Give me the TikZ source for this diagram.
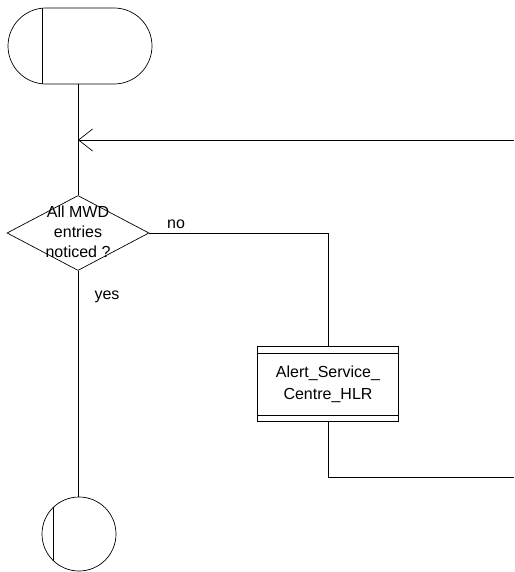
\documentclass[tikz,border=0pt]{standalone}
\usepackage{fontspec}
\setmainfont{Liberation Sans}
\usetikzlibrary{positioning, arrows.meta, shapes.geometric}

\begin{document}
\begin{tikzpicture}[x=1pt, y=-1pt, line width=0.7pt,
    every node/.style={font=\fontsize{16}{20}\selectfont},
    startbox/.style={draw, rounded corners=38pt, minimum width=144pt, minimum height=76pt, inner sep=0pt},
    decision/.style={draw, diamond, minimum width=142pt, minimum height=75pt, inner sep=0pt},
    procbox/.style={draw, minimum width=141pt, minimum height=75pt, inner sep=0pt, align=center},
    stopcircle/.style={draw, circle, minimum size=74pt, inner sep=0pt},
    flowlabel/.style={inner sep=1pt}]
  \useasboundingbox (0,0) rectangle (514,572);

  % start symbol
  \node[startbox] (start) at (80,46) {};
  \draw ([xshift=35pt]start.north west) -- ([xshift=35pt]start.south west);

  % loop back junction
  \coordinate (join) at (78,140);
  \coordinate (back) at (514,140);

  % decision
  \node[decision] (check) at (78,233) {};
  \node[align=center, flowlabel] (checktext) at (78,232) {All MWD\\entries\\noticed ?};

  % procedure call
  \node[procbox] (alert) at (328,384) {Alert\_Service\_\\[2pt]Centre\_HLR};
  \draw ([yshift=-7pt]alert.north west) -- ([yshift=-7pt]alert.north east);
  \draw ([yshift=7pt]alert.south west) -- ([yshift=7pt]alert.south east);
  \coordinate (exit) at (514,477);

  % end symbol
  \node[stopcircle] (stop) at (79,534) {};
  \draw (stop.133) -- (stop.227);

  % connectors
  \draw (start.south -| join) -- (check.north);
  \draw[-{Straight Barb[length=14pt, width=22pt]}] (back) -- (join);
  \draw (check.east) -- (check.east -| alert) -- (alert.north);
  \draw (alert.south) |- (exit);
  \draw (check.south) -- (stop.north -| check);

  % labels
  \node[flowlabel] (nolabel) at (176,224) {no};
  \node[flowlabel] (yeslabel) at (107,297) {yes};
\end{tikzpicture}
\end{document}
